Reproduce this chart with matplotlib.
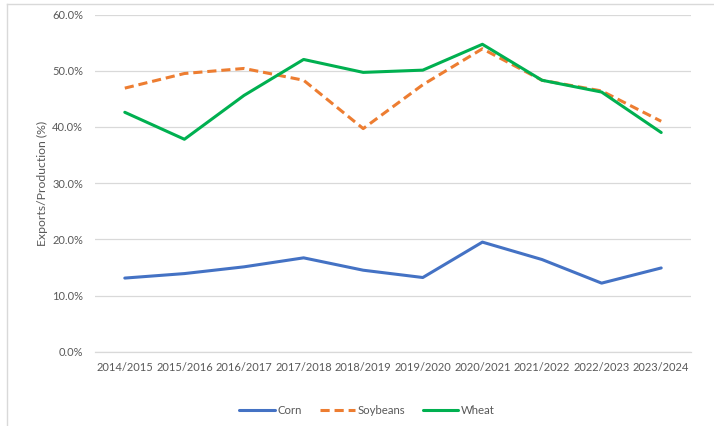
import matplotlib.pyplot as plt
from matplotlib.lines import Line2D
from matplotlib.ticker import FuncFormatter

plt.rcParams['font.family'] = ['Lato', 'DejaVu Sans']

years = ["2014/2015", "2015/2016", "2016/2017", "2017/2018", "2018/2019",
         "2019/2020", "2020/2021", "2021/2022", "2022/2023", "2023/2024"]
corn = [13.1, 13.9, 15.1, 16.7, 14.5, 13.2, 19.5, 16.4, 12.2, 14.9]
soybeans = [46.9, 49.5, 50.4, 48.3, 39.7, 47.5, 53.9, 48.3, 46.4, 41.0]
wheat = [42.6, 37.8, 45.6, 52.0, 49.7, 50.1, 54.7, 48.3, 46.2, 39.0]

gris = "#595959"

fig = plt.figure(figsize=(7.14, 4.26), dpi=100)
ax = fig.add_axes([95/714, 1-351.7/426, 596/714, 337.2/426])

x = range(len(years))
ax.plot(x, corn, color="#4472C4", lw=2.2, label="Corn", solid_capstyle="round")
ax.plot(x, soybeans, color="#ED7D31", lw=2.2, ls=(0, (3, 1.6)), label="Soybeans")
ax.plot(x, wheat, color="#00B050", lw=2.2, label="Wheat", solid_capstyle="round")

ax.set_xlim(-0.5, len(years)-0.5)
ax.set_ylim(0, 60)
ax.set_yticks([0, 10, 20, 30, 40, 50, 60])
ax.yaxis.set_major_formatter(FuncFormatter(lambda v, p: "{:.1f}%".format(v)))
ax.set_xticks(list(x))
ax.set_xticklabels(years)
ax.grid(axis="y", color="#D9D9D9", lw=0.9)
ax.set_axisbelow(True)
for s in ["top", "right", "left"]:
    ax.spines[s].set_visible(False)
ax.spines["bottom"].set_color("#D9D9D9")
ax.spines["bottom"].set_linewidth(0.9)
ax.tick_params(length=0, labelsize=8, colors=gris)
ax.tick_params(axis="x", pad=7.5)
ax.tick_params(axis="y", pad=8.5)
ax.set_ylabel("Exports/Production (%)", fontsize=8.8, color=gris, labelpad=3)

leg = fig.legend(loc="center", bbox_to_anchor=(367/714, 1-410/426), ncol=3,
                 frameon=False, fontsize=8.2, handlelength=3.1, columnspacing=1.6,
                 handletextpad=0.2)
for t in leg.get_texts():
    t.set_color(gris)

# marco del grafico
fig.add_artist(Line2D([7/714, 7/714], [0, 1-4/426], color="#D9D9D9", lw=1))
fig.add_artist(Line2D([7/714, 1], [1-4/426, 1-4/426], color="#D9D9D9", lw=1))

fig.savefig("out.png", dpi=100)
